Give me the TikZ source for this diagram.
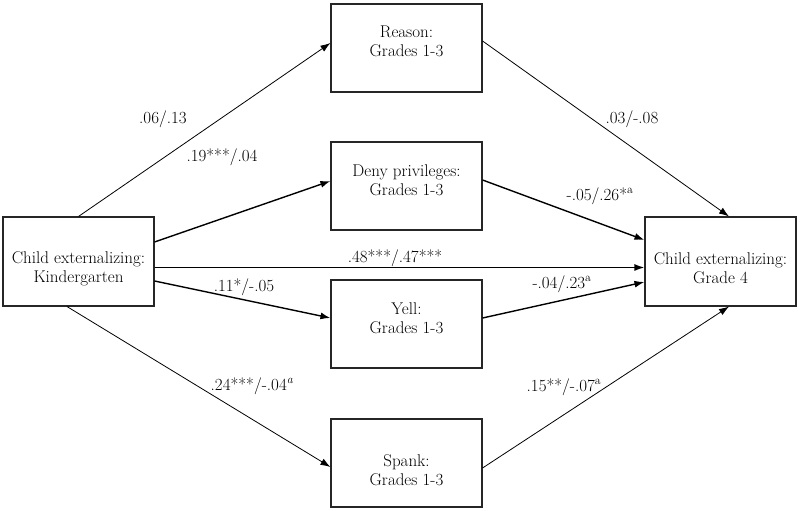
\documentclass[tikz,border=0pt]{standalone}
\usetikzlibrary{arrows.meta}

\tikzset{
    every node/.style={font=\fontsize{17}{19}\selectfont},
    box/.style={draw=black!85, line width=1.1pt, minimum width=151pt,
        minimum height=88pt, inner sep=0pt},
    boxtext/.style={align=center, inner sep=0pt},
    coef/.style={inner sep=0pt},
    link/.style={-{Latex[length=10pt, width=7pt]}, line width=0.8pt},
    boldlink/.style={link, line width=1.4pt}
}

\begin{document}
\begin{tikzpicture}[x=1pt, y=1pt]
    \useasboundingbox (0, 0) rectangle (800, 511);
    % outer boxes
    \node[box, minimum height=89pt, label={[boxtext, name=kg-t, yshift=-7pt]
        center:{Child externalizing:\\Kindergarten}}] (kg) at (78.5, 249.5) {};
    \node[box, minimum height=89pt, label={[boxtext, name=gr4-t, yshift=-7pt]
        center:{Child externalizing:\\Grade 4}}] (gr4) at (720.5, 249.5) {};
    % mediators, Grades 1-3
    \foreach \nm/\yc/\dy/\txt in
        {reason/463/7/{Reason:}, deny/325/6/{Deny privileges:},
         yell/187/5.5/{Yell:}, spank/48/-7/{Spank:}}{
        \node[box, label={[boxtext, name=\nm-t, yshift=\dy pt]
            center:{\txt\\Grades 1-3}}] (\nm) at (406.5, \yc) {};
    };
    % paths
    \draw[link] (kg.north) -- ([yshift=5pt]reason.west);
    \draw[boldlink] ([yshift=19.5pt]kg.east) -- ([yshift=5pt]deny.west);
    \draw[boldlink] ([yshift=-6pt]kg.east) -- ([yshift=-6pt]gr4.west);
    \draw[boldlink] ([yshift=-19.5pt]kg.east) -- ([yshift=6pt]yell.west);
    \draw[link] ([xshift=-11.5pt]kg.south) -- ([yshift=-4pt]spank.west);
    \draw[link] ([yshift=7pt]reason.east) -- ([xshift=8.5pt]gr4.north);
    \draw[boldlink] ([yshift=6pt]deny.east) -- ([yshift=21.5pt]gr4.west);
    \draw[boldlink] ([yshift=6pt]yell.east) -- ([yshift=-20.5pt]gr4.west);
    \draw[link] ([yshift=-5pt]spank.east) -- ([xshift=8.5pt]gr4.south);
    % coefficients
    \node[coef] (c-reason) at (163, 392) {.06/.13};
    \node[coef] (c-deny) at (222, 354) {.19***/.04};
    \node[coef] (c-direct) at (395, 253) {.48***/.47***};
    \node[coef] (c-yell) at (244, 224) {.11*/-.05};
    \node[coef] (c-spank) at (252, 125) {.24***/-.04\textsuperscript{\itshape a}};
    \node[coef] (d-reason) at (632, 392) {.03/-.08};
    \node[coef] (d-deny) at (600, 315) {-.05/.26*\textsuperscript{a}};
    \node[coef] (d-yell) at (562, 227) {-.04/.23\textsuperscript{a}};
    \node[coef] (d-spank) at (564, 124) {.15**/-.07\textsuperscript{a}};
\end{tikzpicture}
\end{document}
